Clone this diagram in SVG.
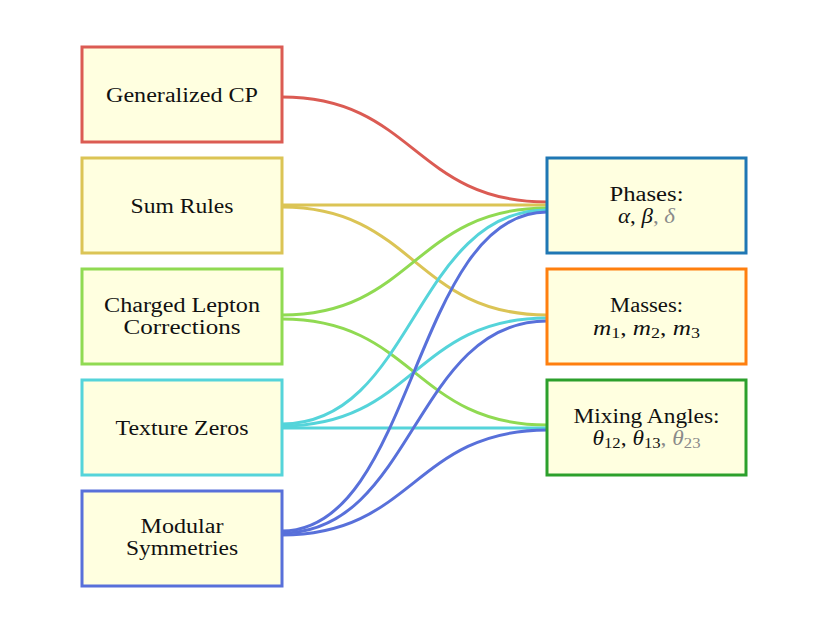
<svg xmlns="http://www.w3.org/2000/svg" width="829" height="626" viewBox="0 0 829 626">
<style>
.box{fill:#ffffe0;stroke-width:3}
.t{font-family:"Liberation Serif","DejaVu Serif",serif;font-size:20px;fill:#111;text-anchor:middle}
.mt{font-size:21px}
.m{font-style:italic}
.g{fill:#8a8a8a}
.s{font-size:15px}
.e{fill:none;stroke-width:3}
.r{stroke:#db5b53}.y{stroke:#dbc455}.gr{stroke:#90da52}.c{stroke:#55d4da}.b{stroke:#5870da}
</style>
<rect width="829" height="626" fill="#fff"/>
<g id="connectors">
<path class="e r" d="M282,97 C414,97 414,202 547,202"/>
<path class="e y" d="M282,205 L547,205"/>
<path class="e y" d="M282,207 C414,207 414,315 547,315"/>
<path class="e gr" d="M282,315 C414,315 414,208 547,208"/>
<path class="e gr" d="M282,319 C414,319 414,425 547,425"/>
<path class="e c" d="M282,424 C414,424 414,210 547,210"/>
<path class="e c" d="M282,426 C414,426 414,318 547,318"/>
<path class="e c" d="M282,428 L547,428"/>
<path class="e b" d="M282,531 C414,531 414,212 547,212"/>
<path class="e b" d="M282,533 C414,533 414,321 547,321"/>
<path class="e b" d="M282,535 C414,535 414,430 547,430"/>
</g>
<g id="gcp"><rect class="box" x="82" y="47" width="200" height="95" stroke="#db5b53"/><text class="t" x="182" y="102" textLength="152" lengthAdjust="spacingAndGlyphs">Generalized CP</text></g>
<g id="sum"><rect class="box" x="82" y="158" width="200" height="95" stroke="#dbc455"/><text class="t" x="182" y="212.5" textLength="103" lengthAdjust="spacingAndGlyphs">Sum Rules</text></g>
<g id="clc"><rect class="box" x="82" y="269" width="200" height="95" stroke="#90da52"/><text class="t" x="182" y="311.5" textLength="156" lengthAdjust="spacingAndGlyphs">Charged Lepton</text><text class="t" x="182" y="333.5" textLength="117" lengthAdjust="spacingAndGlyphs">Corrections</text></g>
<g id="tz"><rect class="box" x="82" y="380" width="200" height="95" stroke="#55d4da"/><text class="t" x="182" y="434.5" textLength="133" lengthAdjust="spacingAndGlyphs">Texture Zeros</text></g>
<g id="ms"><rect class="box" x="82" y="491" width="200" height="95" stroke="#5870da"/><text class="t" x="182" y="532.5" textLength="83" lengthAdjust="spacingAndGlyphs">Modular</text><text class="t" x="182" y="554.5" textLength="112" lengthAdjust="spacingAndGlyphs">Symmetries</text></g>
<g id="phases"><rect class="box" x="547" y="158" width="199" height="95" stroke="#1f77b4"/><text class="t" x="646.5" y="200.5" textLength="74" lengthAdjust="spacingAndGlyphs">Phases:</text><text class="t mt" x="646.5" y="223" textLength="57" lengthAdjust="spacingAndGlyphs"><tspan class="m">α</tspan>, <tspan class="m">β</tspan><tspan class="g">, </tspan><tspan class="m g">δ</tspan></text></g>
<g id="masses"><rect class="box" x="547" y="269" width="199" height="95" stroke="#ff7f0e"/><text class="t" x="646.5" y="312" textLength="73" lengthAdjust="spacingAndGlyphs">Masses:</text><text class="t mt" x="646.5" y="335" textLength="107" lengthAdjust="spacingAndGlyphs"><tspan class="m">m</tspan><tspan class="s" dy="3">1</tspan><tspan dy="-3">, </tspan><tspan class="m">m</tspan><tspan class="s" dy="3">2</tspan><tspan dy="-3">, </tspan><tspan class="m">m</tspan><tspan class="s" dy="3">3</tspan></text></g>
<g id="mixing"><rect class="box" x="547" y="380" width="199" height="95" stroke="#2ca02c"/><text class="t" x="646.5" y="423" textLength="146" lengthAdjust="spacingAndGlyphs">Mixing Angles:</text><text class="t mt" x="646.5" y="445" textLength="108" lengthAdjust="spacingAndGlyphs"><tspan class="m">θ</tspan><tspan class="s" dy="3">12</tspan><tspan dy="-3">, </tspan><tspan class="m">θ</tspan><tspan class="s" dy="3">13</tspan><tspan dy="-3" class="g">, </tspan><tspan class="m g">θ</tspan><tspan class="g s" dy="3">23</tspan></text></g>
</svg>
